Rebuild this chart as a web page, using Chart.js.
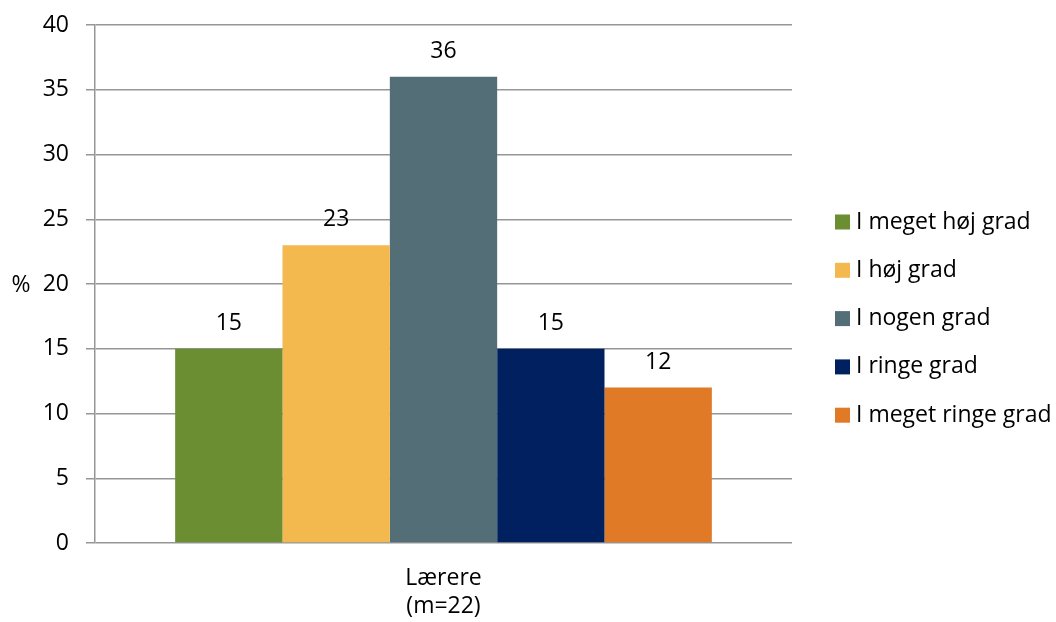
<!DOCTYPE html>
<html><head><meta charset="utf-8">
<script src="https://cdn.jsdelivr.net/npm/chart.js@4"></script>
<style>html,body{margin:0;padding:0;background:#fff}#wrap{width:1056px;height:622px}</style>
</head><body><div id="wrap"><canvas id="c" width="1056" height="622"></canvas></div>
<script>
const categories = [['Lærere', '(m=22)']];
const seriesNames = ['I meget høj grad', 'I høj grad', 'I nogen grad', 'I ringe grad', 'I meget ringe grad'];
const seriesValues = [[15], [23], [36], [15], [12]];
const seriesColors = ['#6B8E32', '#F3B94F', '#546E78', '#002060', '#E07A26'];
const yMin = 0, yMax = 40, yStep = 5;
const yAxisLabel = '%';

const FONT = "'Open Sans', sans-serif";
const FS = 23;
const GRID = '#969696';

const overlay = {
  id: 'overlay',
  afterDatasetsDraw(chart) {
    const ctx = chart.ctx;
    ctx.save();
    ctx.fillStyle = '#000';
    ctx.font = FS + "px " + FONT;
    ctx.textAlign = 'center';
    ctx.textBaseline = 'alphabetic';
    chart.data.datasets.forEach((ds, i) => {
      const meta = chart.getDatasetMeta(i);
      meta.data.forEach((bar, j) => {
        ctx.fillText(String(ds.data[j]), bar.x, bar.y - 19);
      });
    });
    // y axis label
    const ys = chart.scales.y;
    ctx.textBaseline = 'middle';
    ctx.fillText(yAxisLabel, 21, ys.getPixelForValue(20) + 1);
    // legend
    const lx = chart.chartArea.right + 43;
    const ly0 = 222, dy = 48.3;
    ctx.textAlign = 'left';
    chart.data.datasets.forEach((ds, i) => {
      const cy = ly0 + i * dy;
      ctx.fillStyle = ds.backgroundColor;
      ctx.fillRect(lx, cy - 7.5, 15, 15);
      ctx.fillStyle = '#000';
      ctx.fillText(ds.label, lx + 21, cy);
    });
    ctx.restore();
  }
};

new Chart(document.getElementById('c'), {
  type: 'bar',
  data: {
    labels: categories,
    datasets: seriesNames.map((n, i) => ({
      label: n,
      data: seriesValues[i],
      backgroundColor: seriesColors[i],
      borderWidth: 0,
      barPercentage: 1,
      categoryPercentage: 0.77
    }))
  },
  options: {
    responsive: false,
    animation: false,
    events: [],
    layout: { padding: { left: 0, top: 25, right: 264, bottom: 0 } },
    plugins: { legend: { display: false }, tooltip: { enabled: false } },
    scales: {
      x: {
        grid: { display: false, drawTicks: false },
        border: { display: false },
        ticks: { color: '#000', font: { family: FONT, size: FS, lineHeight: 1.22 }, padding: 21 },
        afterFit(s) { s.height = 79; s.paddingLeft = 0; s.paddingRight = 0; }
      },
      y: {
        min: yMin, max: yMax,
        grid: { color: GRID, lineWidth: 1.5, tickLength: 9, tickColor: GRID },
        border: { display: true, color: GRID, width: 1.5 },
        ticks: { stepSize: yStep, color: '#000', font: { family: FONT, size: FS }, padding: 17 },
        afterFit(s) { s.width = 95; s.paddingTop = 0; s.paddingBottom = 0; }
      }
    }
  },
  plugins: [overlay]
});
</script>
</body></html>
